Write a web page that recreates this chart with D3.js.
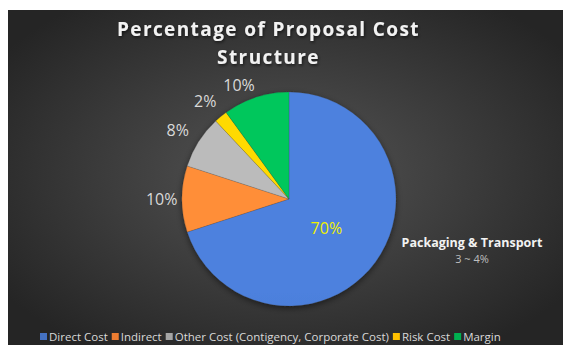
<!DOCTYPE html>
<html>
<head>
<meta charset="utf-8">
<script src="https://cdnjs.cloudflare.com/ajax/libs/d3/7.8.5/d3.min.js"></script>
<style>
  html, body { margin: 0; padding: 0; background: #fff; }
  svg { display: block; font-family: "Open Sans", sans-serif; }
</style>
</head>
<body>
<svg id="chart" width="563" height="345"></svg>
<script>
const categories = ["Direct Cost", "Indirect", "Other Cost (Contigency, Corporate Cost)", "Risk Cost", "Margin"];
const values     = [70, 10, 8, 2, 10];
const labels     = ["70%", "10%", "8%", "2%", "10%"];
const colors     = ["#4472C4", "#ED7D31", "#A5A5A5", "#FFC000", "#00B050"];
const titleLines = ["Percentage of Proposal Cost", "Structure"];
const noteLines  = ["Packaging & Transport", "3 ~ 4%"];

const svg = d3.select("#chart");
const box = {x: 8, y: 10, w: 555, h: 340};
const cx = 289, cy = 199, r = 107;
// label placement (Excel best-fit): distance as fraction of radius, angle nudge in radians
const labelDist  = [0.445, 1.19, 1.22, 1.2, 1.16];
const labelShift = [0.04, 0, -0.015, -0.02, -0.1];

const defs = svg.append("defs");

const bg = defs.append("radialGradient").attr("id", "bg")
  .attr("cx", "50%").attr("cy", "48%").attr("r", "62%");
bg.append("stop").attr("offset", "0%").attr("stop-color", "#555555");
bg.append("stop").attr("offset", "100%").attr("stop-color", "#252525");

const shadow = defs.append("filter").attr("id", "shadow")
  .attr("x", "-20%").attr("y", "-20%").attr("width", "140%").attr("height", "140%");
shadow.append("feDropShadow").attr("dx", 1).attr("dy", 1.5)
  .attr("stdDeviation", 1.5).attr("flood-color", "#000").attr("flood-opacity", 0.6);

const pieShadow = defs.append("filter").attr("id", "pieShadow")
  .attr("x", "-20%").attr("y", "-20%").attr("width", "140%").attr("height", "140%");
pieShadow.append("feDropShadow").attr("dx", 0).attr("dy", 2)
  .attr("stdDeviation", 3).attr("flood-color", "#000").attr("flood-opacity", 0.5);

colors.forEach((c, i) => {
  const g = defs.append("linearGradient").attr("id", "grad" + i)
    .attr("gradientUnits", "userSpaceOnUse")
    .attr("x1", 0).attr("y1", cy - r).attr("x2", 0).attr("y2", cy + r);
  g.append("stop").attr("offset", "0%").attr("stop-color", d3.color(c).brighter(0.35));
  g.append("stop").attr("offset", "100%").attr("stop-color", d3.color(c).darker(0.25));
});

svg.append("rect")
  .attr("x", box.x).attr("y", box.y)
  .attr("width", box.w).attr("height", box.h)
  .attr("fill", "url(#bg)");

// Title
svg.append("g").attr("filter", "url(#shadow)")
  .selectAll("text")
  .data(titleLines)
  .enter().append("text")
  .attr("x", 268.5)
  .attr("y", (d, i) => 36 + i * 28)
  .attr("text-anchor", "middle")
  .attr("font-size", "19px")
  .attr("font-weight", "bold")
  .attr("letter-spacing", "1.4px")
  .attr("fill", "#f2f2f2")
  .text(d => d);

// Pie
const pie = d3.pie().sort(null).value(d => d)
  .startAngle(0).endAngle(2 * Math.PI);
const arcs = pie(values);
const arc = d3.arc().innerRadius(0).outerRadius(r);

const g = svg.append("g")
  .attr("transform", `translate(${cx},${cy})`);

g.append("g").attr("filter", "url(#pieShadow)")
  .selectAll("path")
  .data(arcs)
  .enter().append("path")
  .attr("d", arc)
  .attr("fill", (d, i) => `url(#grad${i})`)
  .attr("stroke", "rgba(60,60,60,0.35)")
  .attr("stroke-width", 0.5);

g.selectAll(".lbl")
  .data(arcs)
  .enter().append("text")
  .attr("class", "lbl")
  .attr("transform", (d, i) => {
    const rr = r * labelDist[i];
    const a = (d.startAngle + d.endAngle) / 2 + labelShift[i];
    return `translate(${Math.sin(a) * rr},${-Math.cos(a) * rr})`;
  })
  .attr("dy", "0.35em")
  .attr("text-anchor", "middle")
  .attr("font-size", "16px")
  .attr("fill", (d, i) => i === 0 ? "#f0f000" : "#d9d9d9")
  .text((d, i) => labels[i]);

// Annotation
svg.selectAll(".note")
  .data(noteLines)
  .enter().append("text")
  .attr("class", "note")
  .attr("x", 472)
  .attr("y", (d, i) => 247 + i * 15.5)
  .attr("text-anchor", "middle")
  .attr("font-size", (d, i) => i === 0 ? "12.5px" : "11px")
  .attr("font-weight", (d, i) => i === 0 ? "bold" : "normal")
  .attr("fill", (d, i) => i === 0 ? "#f2f2f2" : "#bfbfbf")
  .text(d => d);

// Legend
const legend = svg.append("g").attr("transform", "translate(0,337)");
let lx = 40;
categories.forEach((c, i) => {
  const item = legend.append("g");
  item.append("rect")
    .attr("x", lx).attr("y", -4)
    .attr("width", 7).attr("height", 7)
    .attr("fill", colors[i]);
  const t = item.append("text")
    .attr("x", lx + 9).attr("y", 0)
    .attr("dy", "0.35em")
    .attr("font-size", "11.5px")
    .attr("fill", "#d9d9d9")
    .text(c);
  lx += 9 + t.node().getComputedTextLength() + 4;
});
</script>
</body>
</html>
